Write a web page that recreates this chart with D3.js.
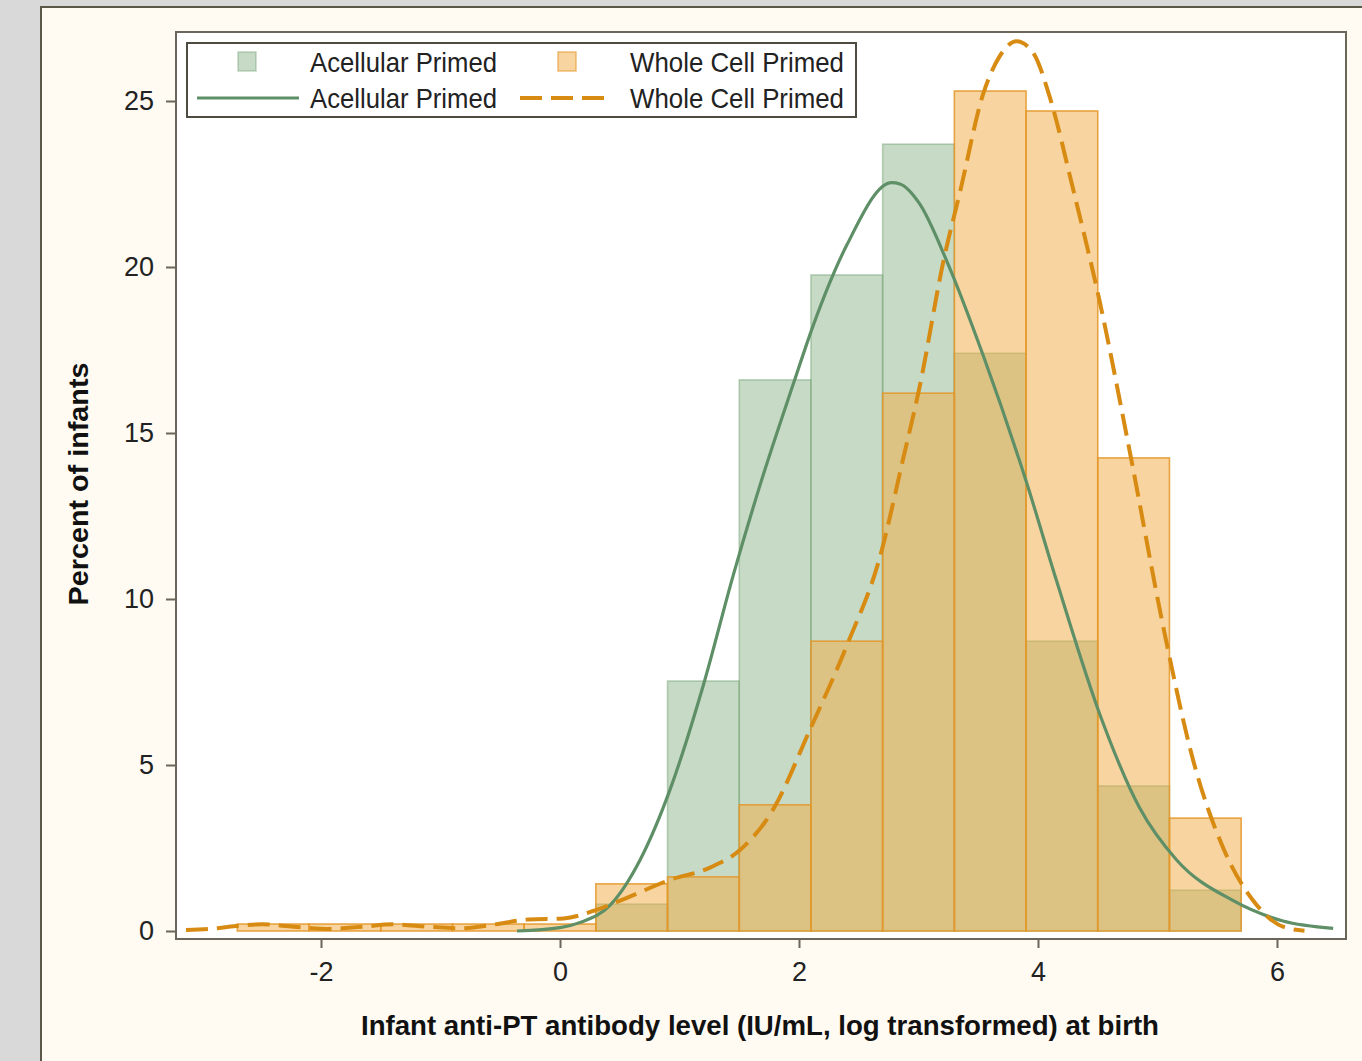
<!DOCTYPE html>
<html>
<head>
<meta charset="utf-8">
<script src="https://cdn.jsdelivr.net/npm/d3@7"></script>
<style>
  html, body { margin: 0; padding: 0; background: #d9d9d9; }
  svg { display: block; }
</style>
</head>
<body>
<svg id="chart" width="1362" height="1061"></svg>
<script>
// ---------------- DATA ----------------
const binStarts = [-2.7, -2.1, -1.5, -0.9, -0.3, 0.3, 0.9, 1.5, 2.1, 2.7, 3.3, 3.9, 4.5, 5.1];
const binWidth = 0.6;
const acellularPct = [0, 0, 0, 0, 0, 0.81, 7.53, 16.6, 19.76, 23.7, 17.4, 8.73, 4.37, 1.23];
const wholeCellPct = [0.21, 0.21, 0.21, 0.21, 0.21, 1.42, 1.63, 3.8, 8.73, 16.2, 25.3, 24.7, 14.25, 3.4];

const acellularCurveX = [-0.36, 0.0, 0.17, 0.42, 0.67, 0.92, 1.2, 1.45, 1.674, 1.95, 2.12, 2.4, 2.776, 2.845, 3.01, 3.24, 3.54, 3.905, 4.156, 4.52, 4.85, 5.16, 5.63, 6.05, 6.47];
const acellularCurveY = [0.0, 0.1, 0.26, 0.78, 2.14, 4.25, 7.41, 10.72, 13.43, 16.45, 18.25, 20.66, 22.54, 22.5, 21.9, 20.15, 17.35, 13.5, 10.54, 6.5, 3.71, 2.14, 0.92, 0.3, 0.08];

const wholeCellCurveX = [-3.13, -2.94, -2.71, -2.49, -2.23, -1.93, -1.65, -1.4, -1.1, -0.81, -0.54, -0.26, 0.03, 0.3, 0.56, 0.92, 1.255, 1.506, 1.78, 2.09, 2.4, 2.68, 2.87, 3.01, 3.21, 3.35, 3.54, 3.68, 3.82, 3.96, 4.1, 4.29, 4.52, 4.77, 5.05, 5.3, 5.55, 5.8, 6.05, 6.23];
const wholeCellCurveY = [0.03, 0.06, 0.15, 0.2, 0.13, 0.06, 0.13, 0.2, 0.13, 0.08, 0.2, 0.35, 0.38, 0.63, 1.0, 1.54, 1.91, 2.44, 3.64, 6.05, 8.6, 11.3, 14.2, 16.4, 20.2, 22.3, 25.2, 26.35, 26.8, 26.45, 25.1, 22.4, 18.9, 14.4, 9.13, 5.12, 2.5, 0.92, 0.13, 0.01];

const xTicks = [-2, 0, 2, 4, 6];
const yTicks = [0, 5, 10, 15, 20, 25];
const legendLabels = ["Acellular Primed", "Whole Cell Primed"];
const xTitle = "Infant anti-PT antibody level (IU/mL, log transformed) at birth";
const yTitle = "Percent of infants";

// ---------------- STYLE ----------------
const GREEN = "rgb(141,181,141)";
const GREEN_LINE = "#5e8f67";
const ORANGE = "rgb(241,171,65)";
const ORANGE_LINE = "#d88b12";
const NARROW = "'Liberation Sans Narrow', 'Arial Narrow', 'Liberation Sans', Arial, sans-serif";

const svg = d3.select("#chart");

// outer cream panel
svg.append("rect").attr("x", 41).attr("y", 7).attr("width", 1340).attr("height", 1070)
  .attr("fill", "#fffaf2").attr("stroke", "#5c5749").attr("stroke-width", 2);

const plot = { left: 176, top: 32, right: 1346, bottom: 939 };

const x = d3.scaleLinear().domain([0, 2]).range([560, 799]);
const y = d3.scaleLinear().domain([0, 25]).range([931, 101]);

// plot background
svg.append("rect").attr("x", plot.left).attr("y", plot.top)
  .attr("width", plot.right - plot.left).attr("height", plot.bottom - plot.top)
  .attr("fill", "#ffffff");

const g = svg.append("g");

// bars
function drawBars(vals, fill, stroke, sOpacity) {
  g.append("g").selectAll("rect")
    .data(binStarts.map((s, i) => ({ s, v: vals[i] })).filter(d => d.v > 0))
    .join("rect")
    .attr("x", d => x(d.s))
    .attr("width", d => x(d.s + binWidth) - x(d.s))
    .attr("y", d => y(d.v))
    .attr("height", d => y(0) - y(d.v))
    .attr("fill", fill).attr("fill-opacity", 0.5)
    .attr("stroke", stroke).attr("stroke-opacity", sOpacity).attr("stroke-width", 1.6);
}
drawBars(acellularPct, GREEN, "rgb(120,165,120)", 0.5);
drawBars(wholeCellPct, ORANGE, "rgb(228,150,40)", 0.85);

// curves
const line = d3.line().x(d => x(d[0])).y(d => y(d[1])).curve(d3.curveMonotoneX);
g.append("path")
  .datum(acellularCurveX.map((v, i) => [v, acellularCurveY[i]]))
  .attr("d", line).attr("fill", "none")
  .attr("stroke", GREEN_LINE).attr("stroke-width", 3.2);
g.append("path")
  .datum(wholeCellCurveX.map((v, i) => [v, wholeCellCurveY[i]]))
  .attr("d", line).attr("fill", "none")
  .attr("stroke", ORANGE_LINE).attr("stroke-width", 4)
  .attr("stroke-dasharray", "22,9");

// frame
svg.append("rect").attr("x", plot.left).attr("y", plot.top)
  .attr("width", plot.right - plot.left).attr("height", plot.bottom - plot.top)
  .attr("fill", "none").attr("stroke", "#6b665a").attr("stroke-width", 2);

// axes
const xAxis = d3.axisBottom(x).tickValues(xTicks).tickSize(9).tickPadding(14)
  .tickFormat(d => String(d));
const xa = svg.append("g").attr("transform", `translate(0,${plot.bottom})`).call(xAxis);
xa.select(".domain").remove();
xa.selectAll(".tick line").attr("stroke", "#6b665a").attr("stroke-width", 2);
xa.selectAll(".tick text").attr("font-family", NARROW).attr("font-size", 27)
  .attr("fill", "#222").attr("dy", "0.71em");

const yAxis = d3.axisLeft(y).tickValues(yTicks).tickSize(10).tickPadding(12)
  .tickFormat(d => String(d));
const ya = svg.append("g").attr("transform", `translate(${plot.left},0)`).call(yAxis);
ya.select(".domain").remove();
ya.selectAll(".tick line").attr("stroke", "#6b665a").attr("stroke-width", 2);
ya.selectAll(".tick text").attr("font-family", NARROW).attr("font-size", 27)
  .attr("fill", "#222");

// axis titles
svg.append("text").attr("x", 760).attr("y", 1035).attr("text-anchor", "middle")
  .attr("font-family", NARROW).attr("font-weight", "bold").attr("font-size", 28)
  .attr("fill", "#111")
  .attr("textLength", 798).attr("lengthAdjust", "spacingAndGlyphs")
  .text(xTitle);
svg.append("text").attr("transform", "translate(88,484) rotate(-90)")
  .attr("text-anchor", "middle")
  .attr("font-family", "'Liberation Sans', Arial, sans-serif").attr("font-weight", "bold").attr("font-size", 28)
  .attr("fill", "#111")
  .attr("textLength", 243).attr("lengthAdjust", "spacingAndGlyphs")
  .text(yTitle);

// legend
const lg = svg.append("g");
lg.append("rect").attr("x", 187).attr("y", 43).attr("width", 669).attr("height", 74)
  .attr("fill", "#ffffff").attr("stroke", "#4f4b42").attr("stroke-width", 2);
const legendFont = { family: NARROW, size: 28 };
// row 1: squares
lg.append("rect").attr("x", 238).attr("y", 52).attr("width", 18).attr("height", 19)
  .attr("fill", GREEN).attr("fill-opacity", 0.5).attr("stroke", "rgb(120,165,120)").attr("stroke-opacity", 0.45).attr("stroke-width", 1.5);
lg.append("rect").attr("x", 558).attr("y", 52).attr("width", 18).attr("height", 19)
  .attr("fill", ORANGE).attr("fill-opacity", 0.5).attr("stroke", "rgb(228,150,40)").attr("stroke-opacity", 0.6).attr("stroke-width", 1.5);
// row 2: lines
lg.append("line").attr("x1", 197).attr("x2", 299).attr("y1", 98).attr("y2", 98)
  .attr("stroke", GREEN_LINE).attr("stroke-width", 3.2);
lg.append("line").attr("x1", 520).attr("x2", 612).attr("y1", 98).attr("y2", 98)
  .attr("stroke", ORANGE_LINE).attr("stroke-width", 4).attr("stroke-dasharray", "22,9");
const legendRows = [72, 108];
const legendCols = [{ x: 310, w: 187 }, { x: 630, w: 214 }];
legendRows.forEach(ry => {
  legendLabels.forEach((lab, i) => {
    lg.append("text").attr("x", legendCols[i].x).attr("y", ry)
      .attr("font-family", legendFont.family).attr("font-size", legendFont.size)
      .attr("fill", "#222")
      .attr("textLength", legendCols[i].w).attr("lengthAdjust", "spacingAndGlyphs")
      .text(lab);
  });
});
</script>
</body>
</html>
